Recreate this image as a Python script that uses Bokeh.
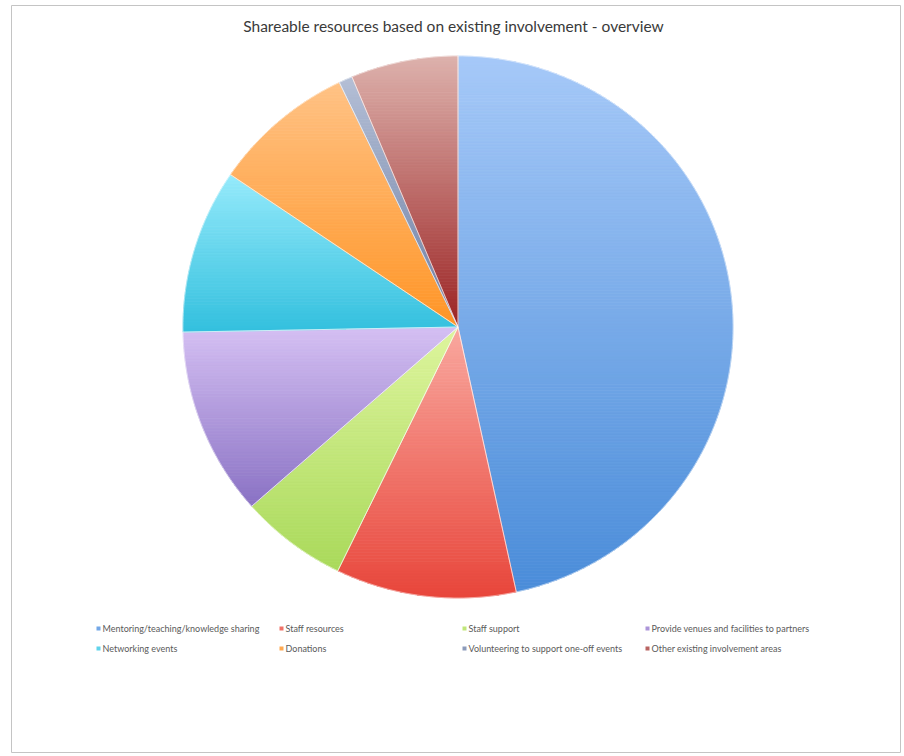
import numpy as np
from bokeh.plotting import figure
from bokeh.models import ColumnDataSource, Range1d
from bokeh.core.properties import value
from bokeh.embed import file_html
from bokeh.resources import INLINE

# ---- data -------------------------------------------------------------
title_text = "Shareable resources based on existing involvement - overview"
categories = [
    "Mentoring/teaching/knowledge sharing",
    "Staff resources",
    "Staff support",
    "Provide venues and facilities to partners",
    "Networking events",
    "Donations",
    "Volunteering to support one-off events",
    "Other existing involvement areas",
]
shares = [46.6, 10.6, 6.3, 11.2, 9.8, 8.4, 0.8, 6.3]

# gradient end colours per slice (top -> bottom of each slice)
top_colors = ["#a6c9f8", "#f9a89f", "#def59e", "#d5c0f3", "#96eafb", "#ffc285", "#b4bfd6", "#ddb2ad"]
bottom_colors = ["#4a8cd9", "#e8463b", "#a9d95a", "#8a72c4", "#33c0de", "#ff9526", "#6c7ea3", "#9c2424"]

# ---- page / geometry --------------------------------------------------
W, H = 904, 756
CX, CY = 457.5, 326.5
RX, RY = 275.0, 271.0

p = figure(width=W, height=H, x_range=Range1d(0, W), y_range=Range1d(H, 0),
           output_backend="svg", toolbar_location=None, min_border=0)
p.axis.visible = False
p.grid.visible = False
p.outline_line_color = None
p.background_fill_color = "white"
p.border_fill_color = "white"


def hex_rgb(h):
    h = h.lstrip("#")
    return np.array([int(h[i:i + 2], 16) for i in (0, 2, 4)], dtype=float)


def mix(c0, c1, t):
    c = hex_rgb(c0) * (1 - t) + hex_rgb(c1) * t
    return "#%02x%02x%02x" % tuple(int(round(v)) for v in c)


def clip_half(poly, keep, y_lim):
    out = []
    n = len(poly)
    for i in range(n):
        a, b = poly[i], poly[(i + 1) % n]
        ina, inb = keep(a[1]), keep(b[1])
        if ina:
            out.append(a)
        if ina != inb:
            t = (y_lim - a[1]) / (b[1] - a[1])
            out.append((a[0] + t * (b[0] - a[0]), y_lim))
    return out


def clip_band(poly, y0, y1):
    poly = clip_half(poly, lambda y: y >= y0, y0)
    if not poly:
        return poly
    return clip_half(poly, lambda y: y <= y1, y1)


total = float(sum(shares))
bounds = np.concatenate([[0.0], np.cumsum(shares) / total * 2 * np.pi])

strip_xs, strip_ys, strip_cols = [], [], []
edge_xs, edge_ys = [], []
for i in range(len(shares)):
    a0, a1 = bounds[i], bounds[i + 1]
    n = max(3, int(np.degrees(a1 - a0)))
    th = np.linspace(a0, a1, n + 1)
    pts = [(CX, CY)] + [(CX + RX * np.sin(t), CY - RY * np.cos(t)) for t in th]
    edge_xs.append([q[0] for q in pts])
    edge_ys.append([q[1] for q in pts])
    ys = [q[1] for q in pts]
    ymin, ymax = min(ys), max(ys)
    nstrips = max(6, int((ymax - ymin) / 3))
    cuts = np.linspace(ymin, ymax, nstrips + 1)
    for k in range(nstrips):
        band = clip_band(pts, cuts[k], cuts[k + 1])
        if len(band) < 3:
            continue
        t = (k + 0.5) / nstrips
        strip_xs.append([q[0] for q in band])
        strip_ys.append([q[1] for q in band])
        strip_cols.append(mix(top_colors[i], bottom_colors[i], t))

src = ColumnDataSource(dict(xs=strip_xs, ys=strip_ys, c=strip_cols))
p.patches("xs", "ys", source=src, fill_color="c", line_color="c", line_width=0.8)
p.patches(edge_xs, edge_ys, fill_alpha=0, line_color="white", line_alpha=0.6, line_width=0.8)

# ---- title ------------------------------------------------------------
p.text(x=[453], y=[25], text=[title_text], text_font=value("Lato"),
       text_font_size="15.5px", text_color="#3a3a3a",
       text_align="center", text_baseline="middle")

# ---- legend (4 columns x 2 rows) --------------------------------------
col_x = [98, 281, 464, 647]
row_y = [628, 648]
mid_colors = [mix(a, b, 0.55) for a, b in zip(top_colors, bottom_colors)]
lx = [col_x[i % 4] for i in range(len(categories))]
ly = [row_y[i // 4] for i in range(len(categories))]
p.scatter(x=lx, y=ly, marker="square", size=4, fill_color=mid_colors, line_color=None)
p.text(x=[v + 4 for v in lx], y=ly, text=categories, text_font=value("Lato"),
       text_font_size="9px", text_color="#5a5a5a", text_baseline="middle")

# ---- outer frame ------------------------------------------------------
p.quad(left=[11], right=[900], top=[5], bottom=[752], fill_alpha=0,
       line_color="#c4c4c4", line_width=1)

open("out.html", "w").write(file_html(p, INLINE))
